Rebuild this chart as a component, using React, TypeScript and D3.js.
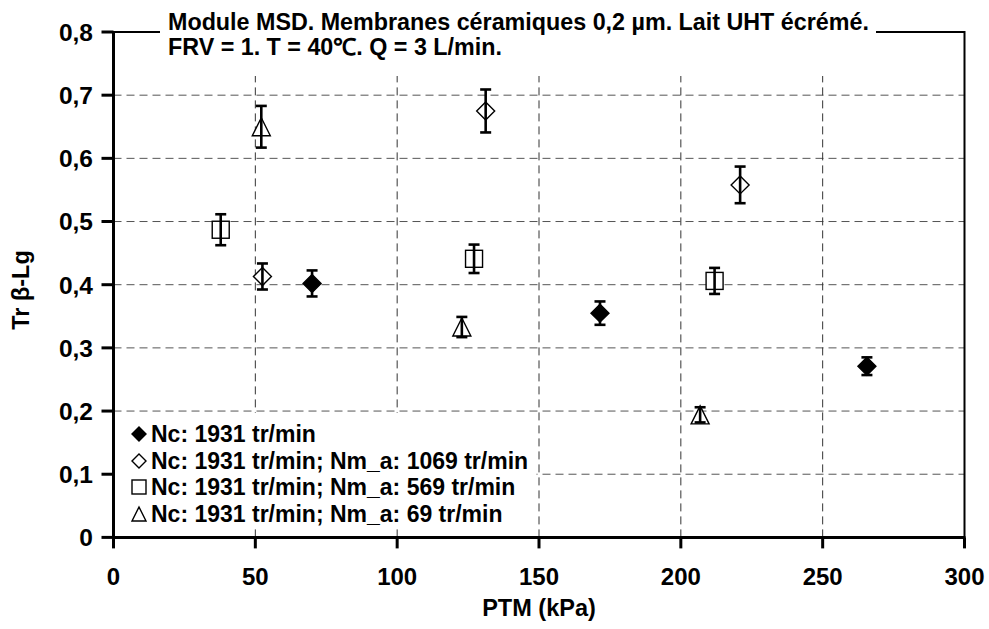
import React from "react";
import * as d3 from "d3";

const W = 989;
const H = 629;

const titleLines = [
  "Module MSD. Membranes céramiques 0,2 µm. Lait UHT écrémé.",
  "FRV = 1. T = 40\u2103. Q = 3 L/min.",
];
const xLabel = "PTM (kPa)";
const yLabel = "Tr \u03b2-Lg";

const xTicks = [0, 50, 100, 150, 200, 250, 300];
const yTicks = [0, 0.1, 0.2, 0.3, 0.4, 0.5, 0.6, 0.7, 0.8];

const seriesNames = [
  "Nc: 1931 tr/min",
  "Nc: 1931 tr/min; Nm_a: 1069 tr/min",
  "Nc: 1931 tr/min; Nm_a: 569 tr/min",
  "Nc: 1931 tr/min; Nm_a: 69 tr/min",
];
const seriesShapes = ["diamondFilled", "diamond", "square", "triangle"];

const s1X = [70, 171.5, 265.6];
const s1Y = [0.402, 0.355, 0.271];
const s1E = [0.0206, 0.0185, 0.014];

const s2X = [52.5, 131.2, 220.9];
const s2Y = [0.413, 0.675, 0.558];
const s2E = [0.0206, 0.034, 0.029];

const s3X = [37.8, 127.1, 211.9];
const s3Y = [0.487, 0.441, 0.406];
const s3E = [0.0245, 0.0225, 0.0206];

const s4X = [52.1, 122.8, 206.8];
const s4Y = [0.65, 0.333, 0.194];
const s4E = [0.033, 0.016, 0.012];

const seriesX = [s1X, s2X, s3X, s4X];
const seriesY = [s1Y, s2Y, s3Y, s4Y];
const seriesE = [s1E, s2E, s3E, s4E];

const FONT = "'Liberation Sans', Arial, Helvetica, sans-serif";

const fmt = (v: number) => (v === 0 ? "0" : d3.format(".1f")(v).replace(".", ","));

function Marker({ shape, cx, cy, size }: { shape: string; cx: number; cy: number; size: number }) {
  const h = size / 2;
  if (shape === "square") {
    return <rect x={cx - h} y={cy - h} width={size} height={size} fill="#fff" stroke="#000" strokeWidth={1.4} />;
  }
  if (shape === "triangle") {
    const p = `${cx},${cy - h} ${cx + h},${cy + h} ${cx - h},${cy + h}`;
    return <polygon points={p} fill="#fff" stroke="#000" strokeWidth={1.4} strokeLinejoin="miter" />;
  }
  const p = `${cx},${cy - h} ${cx + h},${cy} ${cx},${cy + h} ${cx - h},${cy}`;
  return (
    <polygon
      points={p}
      fill={shape === "diamondFilled" ? "#000" : "#fff"}
      stroke="#000"
      strokeWidth={1.4}
    />
  );
}

export default function App() {
  const x = d3.scaleLinear().domain([0, 300]).range([113.5, 964.5]);
  const y = d3.scaleLinear().domain([0, 0.8]).range([537.4, 32]);

  const legendRows = [442, 469, 495, 522];

  return (
    <svg
      width={W}
      height={H}
      style={{ position: "absolute", left: 0, top: 0, background: "#fff" }}
      fontFamily={FONT}
      fontWeight="bold"
    >
      <rect x={0} y={0} width={W} height={H} fill="#fff" />
      {/* gridlines */}
      {yTicks.filter((t) => t > 0 && t < 0.8).map((t) => (
        <line
          key={"gy" + t}
          x1={x(0)}
          x2={x(300)}
          y1={y(t)}
          y2={y(t)}
          stroke="#555"
          strokeWidth={1}
          strokeDasharray="8,5"
        />
      ))}
      {xTicks.filter((t) => t > 0 && t < 300).map((t) => (
        <line
          key={"gx" + t}
          x1={x(t)}
          x2={x(t)}
          y1={y(0)}
          y2={y(0.8)}
          stroke="#333"
          strokeWidth={1}
          strokeDasharray="8,5"
        />
      ))}

      {/* legend background */}
      <rect x={x(0)} y={413} width={423} height={115} fill="#fff" />
      {/* title background */}
      <rect x={160} y={0} width={716} height={76} fill="#fff" />

      {/* frame top/right */}
      <line x1={x(0)} x2={160} y1={y(0.8)} y2={y(0.8)} stroke="#000" strokeWidth={2} />
      <line x1={876} x2={x(300)} y1={y(0.8)} y2={y(0.8)} stroke="#000" strokeWidth={2} />
      <line x1={x(300)} x2={x(300)} y1={y(0.8) - 1} y2={y(0)} stroke="#000" strokeWidth={2} />

      {/* title */}
      {titleLines.map((t, i) => (
        <text key={"t" + i} x={168} y={30 + i * 25} fontSize={23.3} fill="#000">
          {t}
        </text>
      ))}

      {/* data: markers then error bars */}
      {seriesX.map((xs, si) =>
        xs.map((xv, i) => {
          const cx = x(xv);
          const cy = y(seriesY[si][i]);
          const size = seriesShapes[si] === "square" ? 17 : 18;
          return <Marker key={`m${si}-${i}`} shape={seriesShapes[si]} cx={cx} cy={cy} size={size} />;
        })
      )}
      {seriesX.map((xs, si) =>
        xs.map((xv, i) => {
          const cx = x(xv);
          const yt = y(seriesY[si][i] + seriesE[si][i]);
          const yb = y(seriesY[si][i] - seriesE[si][i]);
          return (
            <g key={`e${si}-${i}`} stroke="#000" strokeWidth={2.6}>
              <line x1={cx} x2={cx} y1={yt} y2={yb} />
              <line x1={cx - 5.5} x2={cx + 5.5} y1={yt} y2={yt} />
              <line x1={cx - 5.5} x2={cx + 5.5} y1={yb} y2={yb} />
            </g>
          );
        })
      )}

      {/* axes */}
      <line x1={x(0)} x2={x(0)} y1={y(0.8) - 1} y2={y(0) + 1.5} stroke="#000" strokeWidth={3} />
      <line x1={x(0) - 1.5} x2={x(300) + 1} y1={y(0)} y2={y(0)} stroke="#000" strokeWidth={3} />
      {yTicks.map((t) => (
        <g key={"yt" + t}>
          <line x1={x(0) - 12} x2={x(0)} y1={y(t)} y2={y(t)} stroke="#000" strokeWidth={3} />
          <text x={93} y={y(t)} dy="0.36em" textAnchor="end" fontSize={24.5} fill="#000">
            {fmt(t)}
          </text>
        </g>
      ))}
      {xTicks.map((t) => (
        <g key={"xt" + t}>
          <line x1={x(t)} x2={x(t)} y1={y(0)} y2={y(0) + 11} stroke="#000" strokeWidth={3} />
          <text x={x(t)} y={585} textAnchor="middle" fontSize={24} fill="#000">
            {t}
          </text>
        </g>
      ))}

      {/* axis titles */}
      <text x={539} y={616} textAnchor="middle" fontSize={23.5} fill="#000">
        {xLabel}
      </text>
      <text
        transform={`translate(29,290) rotate(-90)`}
        textAnchor="middle"
        fontSize={23.5}
        fill="#000"
      >
        {yLabel}
      </text>

      {/* legend */}
      {seriesNames.map((n, i) => (
        <g key={"l" + i}>
          <Marker shape={seriesShapes[i]} cx={139} cy={legendRows[i] - 8} size={14} />
          <text x={151} y={legendRows[i]} fontSize={23} fill="#000">
            {n}
          </text>
        </g>
      ))}
    </svg>
  );
}
